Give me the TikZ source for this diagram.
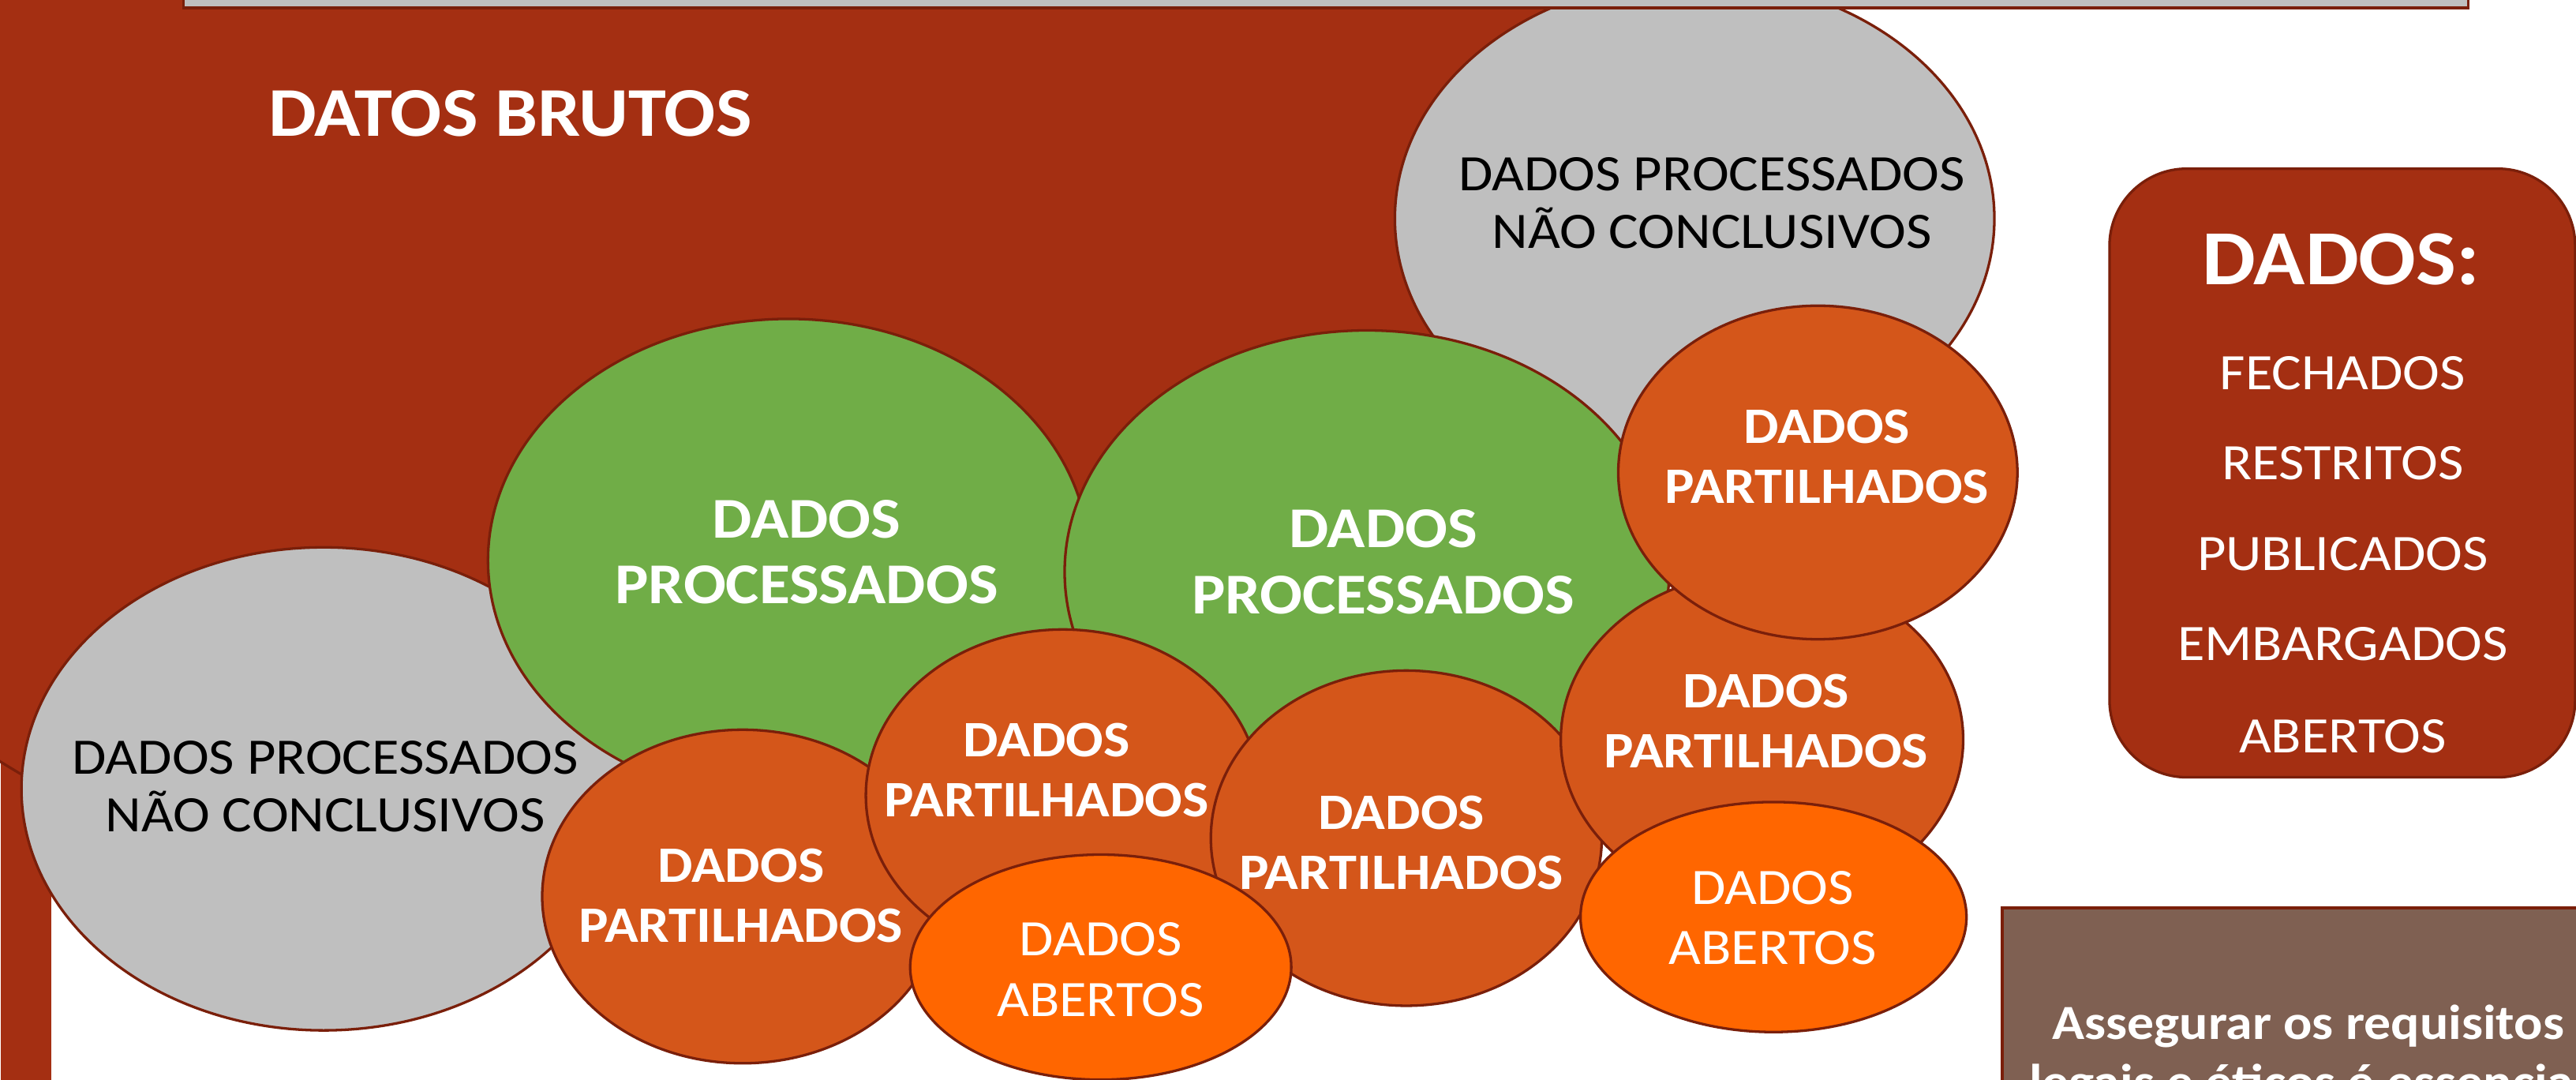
\documentclass[tikz,border=0pt]{standalone}
\usepackage{fontspec}
\setmainfont{Carlito}[FakeStretch=1.09]
\usetikzlibrary{shapes.geometric}
\definecolor{bgbrown}{HTML}{A42F12}
\definecolor{edgec}{HTML}{7A1F0A}
\definecolor{grayf}{HTML}{BFBFBF}
\definecolor{greenf}{HTML}{70AD47}
\definecolor{orangeD}{HTML}{D4561A}
\definecolor{orangeB}{HTML}{FF6600}
\definecolor{taupe}{HTML}{7F6052}
\begin{document}
\begin{tikzpicture}[x=0.02cm, y=-0.02cm,
  ell/.style={ellipse, draw=edgec, line width=0.9pt, inner sep=0pt},
  sz/.style 2 args={minimum width=#1*0.4mm, minimum height=#2*0.4mm},
  lblgray/.style={text=black, align=center, inner sep=0pt, font=\fontsize{17.7}{19.9}\selectfont},
  lblgreen/.style={text=white, align=center, inner sep=0pt, font=\bfseries\fontsize{20}{22.8}\selectfont},
  lblshared/.style={text=white, align=center, inner sep=0pt, font=\bfseries\fontsize{17.7}{20.8}\selectfont},
  lblopen/.style={text=white, align=center, inner sep=0pt, font=\fontsize{17.7}{21}\selectfont},
  item/.style={text=white, inner sep=0pt, font=\fontsize{17.7}{20}\selectfont}
]
\useasboundingbox (0,0) rectangle (1568,657);
\clip (0,0) rectangle (1568,657);

% background shapes
\node[fill=bgbrown, anchor=north west, minimum width=31*0.2mm, minimum height=280*0.2mm, inner sep=0pt] (strip) at (0,400) {};
\node[ell, fill=bgbrown, sz={650}{430}] (raw) at (445,150) {};
\node[text=white, inner sep=0pt, font=\bfseries\fontsize{24.2}{26}\selectfont] (rawlbl) at (310.5,69) {DATOS BRUTOS};

% ellipses in stacking order
\node[ell, fill=grayf, sz={182.5}{146}] (gtop) at (1031.5,133) {};
\node[draw=edgec, fill=grayf, line width=0.9pt, anchor=south west, minimum width=1391*0.2mm, minimum height=40*0.2mm, inner sep=0pt] (bar) at (111,5.6) {};
\node[ell, fill=grayf, sz={184}{147}] (gleft) at (197,480) {};
\node[ell, fill=greenf, sz={183}{147}] (green1) at (480,341) {};
\node[ell, fill=greenf, sz={184}{147}] (green2) at (832,348) {};
\node[ell, fill=orangeD, sz={122}{101.5}] (sh1) at (452,545.5) {};
\node[ell, fill=orangeD, sz={120}{101}] (sh2) at (647,484) {};
\node[ell, fill=orangeD, sz={119}{102}] (sh3) at (856,510) {};
\node[ell, fill=orangeD, sz={122.5}{102}] (sh5) at (1072.5,450) {};
\node[ell, fill=orangeD, sz={121.5}{101.5}] (sh4) at (1106.5,287.5) {};
\node[ell, fill=orangeB, sz={116}{68.5}] (op1) at (670,588.5) {};
\node[ell, fill=orangeB, sz={117.5}{70}] (op2) at (1079.5,558) {};

% labels
\node[lblgray] (tgtop) at (1042,123.5) {DADOS PROCESSADOS\\NÃO CONCLUSIVOS};
\node[lblgray] (tgleft) at (198,478.5) {DADOS PROCESSADOS\\NÃO CONCLUSIVOS};
\node[lblgreen] (tgreen1) at (491,336) {DADOS\\PROCESSADOS};
\node[lblgreen] (tgreen2) at (842,342) {DADOS\\PROCESSADOS};
\node[lblshared] (tsh1) at (451,545) {DADOS\\PARTILHADOS};
\node[lblshared] (tsh2) at (637,468.5) {DADOS\\PARTILHADOS};
\node[lblshared] (tsh3) at (853,513) {DADOS\\PARTILHADOS};
\node[lblshared] (tsh5) at (1075,439) {DADOS\\PARTILHADOS};
\node[lblshared] (tsh4) at (1112,278) {DADOS\\PARTILHADOS};
\node[lblopen] (top1) at (670,590) {DADOS\\ABERTOS};
\node[lblopen] (top2) at (1079,558.5) {DADOS\\ABERTOS};

% right panel
\node[draw=edgec, fill=bgbrown, line width=0.9pt, rounded corners=9.4mm, minimum width=283.5*0.2mm, minimum height=370.4*0.2mm, inner sep=0pt] (panel) at (1425.75,287.8) {};
\node[text=white, inner sep=0pt, font=\bfseries\fontsize{27}{30}\selectfont] (ptitle) at (1425,158) {DADOS:};
\node[item] (i1) at (1426,227) {FECHADOS};
\node[item] (i2) at (1426,282) {RESTRITOS};
\node[item] (i3) at (1426,337) {PUBLICADOS};
\node[item] (i4) at (1426,392) {EMBARGADOS};
\node[item] (i5) at (1426,448) {ABERTOS};

% bottom-right note
\node[draw=edgec, fill=taupe, line width=0.9pt, anchor=north west, minimum width=400*0.2mm, minimum height=150*0.2mm, inner sep=0pt] (note) at (1218,551.6) {};
\node[text=white, inner sep=0pt, anchor=base, font=\bfseries\fontsize{17}{20}\selectfont] (n1) at (1405,632.6) {Assegurar os requisitos};
\node[text=white, inner sep=0pt, anchor=base, font=\bfseries\fontsize{17}{20}\selectfont] (n2) at (1405,668.6) {legais e éticos é essencial};
\end{tikzpicture}
\end{document}
